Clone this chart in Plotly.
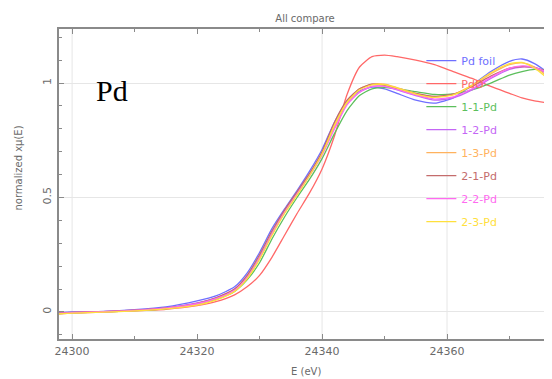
import plotly.graph_objects as go

energy = [24297, 24300, 24305, 24310, 24315, 24320, 24323, 24326, 24328, 24330,
          24332, 24334, 24336, 24338, 24340, 24342, 24344, 24346, 24348, 24350,
          24352, 24355, 24358, 24361, 24364, 24367, 24370, 24372, 24374, 24377]

pd_foil = [-0.005, 0.0, 0.003, 0.010, 0.022, 0.048, 0.070, 0.110, 0.170, 0.260,
           0.365, 0.450, 0.530, 0.615, 0.710, 0.830, 0.920, 0.965, 0.982, 0.975,
           0.955, 0.925, 0.912, 0.935, 0.990, 1.050, 1.095, 1.105, 1.085, 1.030]
pdo = [-0.010, -0.005, 0.0, 0.005, 0.012, 0.028, 0.045, 0.075, 0.110, 0.160,
       0.240, 0.335, 0.430, 0.520, 0.625, 0.770, 0.950, 1.070, 1.115, 1.122,
       1.115, 1.100, 1.080, 1.050, 1.020, 0.985, 0.955, 0.935, 0.922, 0.910]
s_1_1 = [-0.008, -0.004, 0.0, 0.006, 0.015, 0.035, 0.055, 0.090, 0.140, 0.215,
         0.320, 0.415, 0.500, 0.580, 0.670, 0.780, 0.880, 0.945, 0.975, 0.980,
         0.975, 0.962, 0.950, 0.952, 0.970, 1.000, 1.035, 1.050, 1.060, 1.050]
s_1_2 = [-0.006, -0.002, 0.002, 0.008, 0.018, 0.040, 0.062, 0.100, 0.155, 0.240,
         0.345, 0.440, 0.520, 0.600, 0.690, 0.810, 0.910, 0.960, 0.985, 0.985,
         0.970, 0.945, 0.925, 0.935, 0.970, 1.020, 1.060, 1.070, 1.065, 1.030]
s_1_3 = [-0.008, -0.004, 0.0, 0.006, 0.016, 0.035, 0.058, 0.095, 0.150, 0.235,
         0.340, 0.435, 0.515, 0.600, 0.695, 0.820, 0.920, 0.975, 0.995, 0.995,
         0.980, 0.955, 0.940, 0.950, 0.990, 1.040, 1.080, 1.088, 1.070, 1.010]
s_2_1 = [-0.006, -0.002, 0.002, 0.008, 0.018, 0.038, 0.062, 0.100, 0.160, 0.250,
         0.355, 0.445, 0.525, 0.605, 0.700, 0.830, 0.925, 0.975, 0.995, 0.990,
         0.975, 0.955, 0.942, 0.952, 0.985, 1.030, 1.065, 1.072, 1.068, 1.040]
s_2_2 = [-0.007, -0.003, 0.001, 0.007, 0.017, 0.036, 0.058, 0.095, 0.150, 0.235,
         0.340, 0.435, 0.515, 0.595, 0.685, 0.800, 0.905, 0.960, 0.985, 0.985,
         0.972, 0.948, 0.930, 0.940, 0.975, 1.025, 1.065, 1.075, 1.068, 1.035]
s_2_3 = [-0.009, -0.005, -0.001, 0.005, 0.014, 0.030, 0.052, 0.090, 0.145, 0.230,
         0.335, 0.430, 0.510, 0.595, 0.690, 0.815, 0.915, 0.970, 0.992, 0.993,
         0.978, 0.952, 0.937, 0.948, 0.990, 1.045, 1.085, 1.090, 1.065, 1.000]

names = ["Pd foil", "PdO", "1-1-Pd", "1-2-Pd", "1-3-Pd", "2-1-Pd", "2-2-Pd", "2-3-Pd"]
colors = ["#6f6fff", "#ff6868", "#5cbf5c", "#c466f5", "#ffb25e", "#c46c6c", "#ff6af0", "#ffe03c"]
series = [pd_foil, pdo, s_1_1, s_1_2, s_1_3, s_2_1, s_2_2, s_2_3]

x_ticks = [24300, 24320, 24340, 24360]
x_tick_text = ["24300", "24320", "24340", "24360"]
x_grid = [24300, 24340, 24360]
y_ticks = [0, 0.5, 1]
y_tick_text = ["0", "0.5", "1"]

fig = go.Figure()
for name, col, vals in zip(names, colors, series):
    fig.add_trace(go.Scatter(
        x=energy, y=vals, mode="lines",
        line=dict(color=col, width=1.3, shape="spline", smoothing=0.6),
        name=f'<span style="color:{col}">{name}</span>',
        legendgroup=name,
    ))

axis_col = "#8a8a8a"
text_col = "#6a6a6a"
grid_col = "#e6e6e6"
tick_font = dict(family="DejaVu Sans", size=11, color=text_col)

shapes = [dict(type="line", xref="x", yref="paper", x0=g, x1=g, y0=0, y1=1,
               line=dict(color=grid_col, width=1), layer="below") for g in x_grid]

fig.update_layout(
    width=544, height=371,
    margin=dict(l=51, r=0, t=21, b=40),
    paper_bgcolor="white", plot_bgcolor="white",
    title=dict(text="All compare", x=0.546, xanchor="center", y=0.973, yanchor="middle",
               font=dict(family="DejaVu Sans", size=10, color=text_col)),
    showlegend=True,
    legend=dict(x=0.735, y=0.945, xanchor="left", yanchor="top",
                bgcolor="rgba(0,0,0,0)", tracegroupgap=4,
                font=dict(family="DejaVu Sans", size=11),
                itemwidth=30),
    xaxis=dict(range=[24297.9, 24376.8], tickvals=x_ticks, ticktext=x_tick_text,
               automargin=False,
               ticks="inside", ticklen=5, tickcolor=axis_col,
               minor=dict(ticks="inside", ticklen=3, dtick=10, tick0=24300, tickcolor=axis_col, showgrid=False),
               showline=True, linecolor=axis_col, linewidth=1.5, mirror="ticks",
               showgrid=False, zeroline=False,
               tickfont=tick_font, ticklabelstandoff=1),
    yaxis=dict(range=[-0.118, 1.236], tickvals=y_ticks, ticktext=y_tick_text, tickangle=-90,
               automargin=False,
               ticks="inside", ticklen=5, tickcolor=axis_col,
               minor=dict(ticks="inside", ticklen=3, dtick=0.1, tick0=0, tickcolor=axis_col, showgrid=False),
               showline=True, linecolor=axis_col, linewidth=1.5, mirror="ticks",
               showgrid=True, gridcolor=grid_col, gridwidth=1, zeroline=False,
               tickfont=tick_font, ticklabelstandoff=2),
    shapes=shapes,
    annotations=[
        dict(text="Pd", xref="paper", yref="paper", x=0.071, y=0.80,
             xanchor="left", yanchor="middle", showarrow=False,
             font=dict(family="Liberation Serif", size=30, color="black")),
        dict(text="E (eV)", xref="paper", yref="paper", x=0.5, y=-0.105,
             xanchor="center", yanchor="middle", showarrow=False,
             font=dict(family="DejaVu Sans", size=10, color=text_col)),
        dict(text="normalized xμ(E)", xref="paper", yref="paper", x=-0.083, y=0.55,
             xanchor="center", yanchor="middle", showarrow=False, textangle=-90,
             font=dict(family="DejaVu Sans", size=10, color=text_col)),
    ],
)

fig.write_html("out.html")
